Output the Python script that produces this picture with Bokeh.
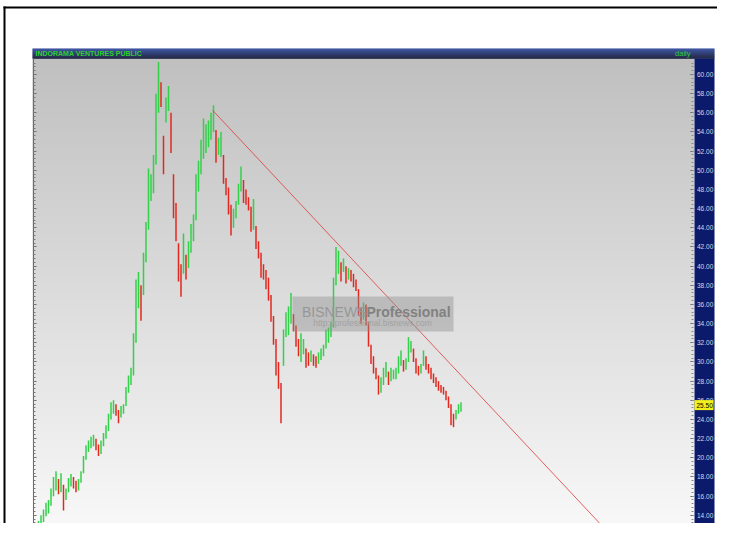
import numpy as np
from bokeh.plotting import figure
from bokeh.models import Range1d, LinearAxis, FixedTicker, PrintfTickFormatter
from bokeh.core.properties import value
from bokeh.embed import file_html
from bokeh.resources import INLINE

# ---------------- data ----------------
title_text = "INDORAMA VENTURES PUBLIC"
period_text = "daily"
wm_main = "BISNEWS"
wm_bold = "Professional"
wm_url = "http://professional.bisnews.com"

bar_low = [
    11.6, 11.7, 12.2, 12.6, 13.3, 13.9, 14.2, 15.0, 16.0, 16.6,
    16.2, 16.4, 14.5, 15.6, 16.4, 17.0, 16.8, 16.4, 16.6, 17.4,
    18.4, 19.8, 20.6, 21.0, 21.2, 20.8, 20.2, 20.4, 21.2, 22.0,
    22.8, 24.0, 24.6, 24.4, 23.6, 24.2, 24.6, 25.4, 26.8, 27.6,
    28.6, 32.0, 35.6, 34.3, 37.0, 40.4, 43.8, 46.8, 47.6, 50.6,
    56.0, 56.6, 49.6, 55.0, 56.2, 51.8, 45.0, 42.6, 38.4, 36.8,
    39.2, 38.6, 39.8, 41.4, 42.6, 44.8, 47.8, 49.6, 51.2, 51.8,
    52.4, 53.2, 54.0, 50.8, 51.6, 51.4, 48.6, 47.4, 45.4, 43.2,
    44.0, 45.0, 46.4, 47.8, 46.6, 46.4, 45.8, 43.6, 43.8, 41.8,
    40.8, 38.8, 38.6, 37.6, 36.4, 34.2, 31.8, 28.6, 27.2, 23.6,
    29.6, 32.6, 32.8, 34.0, 33.2, 31.6, 30.6, 30.0, 30.8, 29.4,
    29.6, 30.0, 29.6, 29.4, 29.8, 30.2, 30.6, 31.4, 32.0, 32.6,
    33.6, 38.0, 39.2, 38.4, 39.4, 38.2, 38.6, 38.4, 37.8, 37.4,
    34.8, 34.0, 34.4, 33.8, 31.6, 29.8, 28.8, 28.2, 26.6, 26.8,
    27.6, 28.4, 27.6, 28.0, 28.2, 28.2, 28.8, 29.6, 29.0, 29.2,
    30.0, 31.0, 30.0, 28.8, 28.6, 28.8, 29.6, 29.2, 28.8, 28.2,
    27.8, 27.4, 27.0, 26.8, 26.6, 26.0, 25.2, 23.4, 23.2, 24.0,
    24.6, 24.8,
]
bar_high = [
    12.6, 12.9, 13.4, 14.0, 14.6, 15.3, 15.6, 16.8, 18.0, 18.6,
    17.8, 18.4, 17.2, 16.8, 17.9, 18.3, 18.0, 17.6, 17.8, 18.6,
    20.2, 21.3, 21.8, 22.2, 22.4, 22.0, 21.4, 21.8, 22.6, 23.4,
    24.6, 25.8, 26.0, 25.6, 25.0, 25.4, 25.6, 27.4, 28.6, 29.4,
    33.0, 38.6, 39.4, 38.0, 41.4, 44.6, 50.2, 49.6, 51.6, 58.0,
    61.3, 59.2, 53.6, 57.6, 58.8, 56.0, 49.6, 46.6, 42.4, 40.2,
    43.4, 41.2, 42.6, 44.4, 45.4, 49.6, 51.0, 53.2, 55.4, 54.8,
    55.2, 56.0, 56.8, 54.2, 53.4, 54.0, 51.6, 49.2, 48.2, 46.4,
    46.0, 46.8, 48.6, 50.4, 49.0, 48.0, 47.2, 46.2, 47.0, 44.2,
    42.6, 41.4, 40.2, 39.6, 38.8, 37.0, 34.8, 32.4, 30.0, 27.8,
    33.4, 35.2, 35.8, 37.2, 35.0, 33.8, 32.4, 33.0, 32.4, 31.4,
    31.0, 31.2, 30.8, 30.6, 31.0, 31.4, 31.8, 33.4, 33.6, 34.2,
    38.8, 42.0, 41.6, 40.4, 40.8, 40.0, 39.8, 39.6, 39.2, 38.6,
    37.6, 35.6, 36.2, 36.0, 34.2, 31.8, 30.6, 29.4, 28.6, 28.4,
    29.4, 30.0, 29.0, 29.4, 29.2, 29.4, 30.6, 31.2, 30.2, 30.4,
    32.6, 32.2, 31.4, 30.4, 29.6, 29.8, 31.2, 30.6, 29.8, 29.4,
    28.8, 28.4, 28.0, 27.6, 27.4, 27.0, 26.4, 25.6, 24.6, 25.0,
    25.6, 25.8,
]
last_close = 25.50
trend_x = [71.7, 240.0]
trend_y = [56.25, 9.40]
tick_values = [12, 14, 16, 18, 20, 22, 24, 26, 28, 30, 32, 34, 36, 38, 40,
               42, 44, 46, 48, 50, 52, 54, 56, 58, 60]

# ---------------- layout helpers (picture pixels -> data) ----------------
BAR_X0, BAR_STEP = 33.0, 2.5
Y_REF_PX, Y_REF_VAL, PX_PER_UNIT = 74.0, 60.0, 9.583
ORIGIN, W, H = 0, 717, 523


def px2i(x):
    return (x - BAR_X0) / BAR_STEP


def py2v(y):
    return Y_REF_VAL - (y - Y_REF_PX) / PX_PER_UNIT


NARROW_STR = "'Liberation Sans Narrow', 'Arial Narrow', 'Liberation Sans', sans-serif"
NARROW = value(NARROW_STR)
SANS = value("'Liberation Sans', Arial, sans-serif")

p = figure(width=W, height=H,
           x_range=Range1d(px2i(ORIGIN), px2i(ORIGIN + W)),
           y_range=Range1d(py2v(ORIGIN + H), py2v(ORIGIN)),
           toolbar_location=None, output_backend="svg", min_border=0,
           x_axis_location=None, y_axis_location=None)
p.outline_line_color = None
p.background_fill_color = "white"
p.border_fill_color = "white"
p.xgrid.visible = False
p.ygrid.visible = False

BOTTOM = ORIGIN + H


def page_quads(x0, x1, y0, y1, colors, alpha=1.0, level="glyph"):
    p.quad(left=px2i(np.asarray(x0, float)), right=px2i(np.asarray(x1, float)),
           top=py2v(np.asarray(y0, float)), bottom=py2v(np.asarray(y1, float)),
           fill_color=colors, fill_alpha=alpha, line_color=None, level=level)


# outer black frame lines
page_quads([3, 3], [733, 5], [6, 6], [8, BOTTOM], "black")

# plot background gradient (gray -> white)
gy = np.arange(58, BOTTOM + 1, 2.0)
gl = (192 + (gy - 58) / (539 - 58) * (250 - 192)).astype(int)
gcol = ["#%02x%02x%02x" % (g, g, g) for g in gl]
page_quads(np.full(len(gy), 32.0), np.full(len(gy), 694.0), gy, gy + 2.6, gcol)

# title bar gradient
ty = np.arange(48, 58, 1.0)
tf = (ty - 48) / 10.0
tcol = ["#%02x%02x%02x" % (int(36 - 33 * f), int(62 - 55 * f), int(150 - 115 * f)) for f in tf]
page_quads(np.full(len(ty), 32.0), np.full(len(ty), 714.0), ty, ty + 1.3, tcol)

# right axis panel
page_quads([694], [714], [58], [BOTTOM], "#0c1a6c")

# OHLC-style bars
idx = np.arange(len(bar_low))
lo = np.array(bar_low)
hi = np.array(bar_high)
mid = (lo + hi) / 2
colors = ["#33d04a" if (k == 0 or mid[k] >= mid[k - 1]) else "#e2281e" for k in range(len(mid))]
p.segment(x0=idx, y0=lo, x1=idx, y1=hi, line_color=colors, line_width=1.5)

# trend line
p.line(trend_x, trend_y, line_color="#dd3c3c", line_width=1, line_alpha=0.8)

# watermark
page_quads([292], [453], [296], [331], "#8c8c8c", alpha=0.42)
p.text(x=[px2i(366)], y=[py2v(311)], text=[wm_main], text_font=SANS,
       text_font_size="14px", text_color="#979797", text_align="right",
       text_baseline="middle")
p.text(x=[px2i(366)], y=[py2v(311)], text=[wm_bold], text_font=SANS,
       text_font_size="14px", text_font_style="bold", text_color="#818181",
       text_align="left", text_baseline="middle")
p.text(x=[px2i(372)], y=[py2v(322.5)], text=[wm_url], text_font=SANS,
       text_font_size="8.5px", text_color="#a2a2a2", text_align="center",
       text_baseline="middle")

# title texts
p.text(x=[px2i(35)], y=[py2v(53)], text=[title_text], text_font=NARROW,
       text_font_size="7px", text_font_style="bold", text_color="#2ed02e",
       text_align="left", text_baseline="middle")
p.text(x=[px2i(690)], y=[py2v(53)], text=[period_text], text_font=NARROW,
       text_font_size="7.5px", text_color="#2ed02e", text_align="right",
       text_baseline="middle")

# axes
minor = [round(float(v), 2) for v in np.arange(12.0, 61.6, 0.4)]
ra = LinearAxis(fixed_location=px2i(692.5),
                ticker=FixedTicker(ticks=tick_values, minor_ticks=minor),
                formatter=PrintfTickFormatter(format="%.2f"),
                bounds=(py2v(BOTTOM), py2v(58)))
ra.axis_line_color = None
ra.major_tick_in = 3
ra.major_tick_out = 0
ra.minor_tick_in = 2
ra.minor_tick_out = 0
ra.major_tick_line_color = "#555555"
ra.minor_tick_line_color = "#8a8a8a"
ra.major_label_standoff = 4
ra.major_label_text_font = NARROW_STR
ra.major_label_text_font_size = "6.5px"
ra.major_label_text_color = "#d4d8e0"
p.add_layout(ra, "right")

la = LinearAxis(fixed_location=px2i(32.5),
                ticker=FixedTicker(ticks=tick_values, minor_ticks=minor),
                bounds=(py2v(BOTTOM), py2v(58)))
la.axis_line_color = "#6a6a6a"
la.major_tick_in = 3
la.major_tick_out = 0
la.minor_tick_in = 2
la.minor_tick_out = 0
la.major_tick_line_color = "#6a6a6a"
la.minor_tick_line_color = "#7a7a7a"
la.major_label_text_color = None
p.add_layout(la, "left")

# last price marker on the axis
yl = (Y_REF_PX + (Y_REF_VAL - last_close) * PX_PER_UNIT)
page_quads([694], [713], [yl - 5], [yl + 5], "#f2f21a", level="overlay")
p.text(x=[px2i(696)], y=[last_close], text=["%.2f" % last_close], text_font=NARROW,
       text_font_size="6.5px", text_color="black", text_align="left",
       text_baseline="middle", level="overlay")

open("out.html", "w").write(file_html(p, INLINE))
